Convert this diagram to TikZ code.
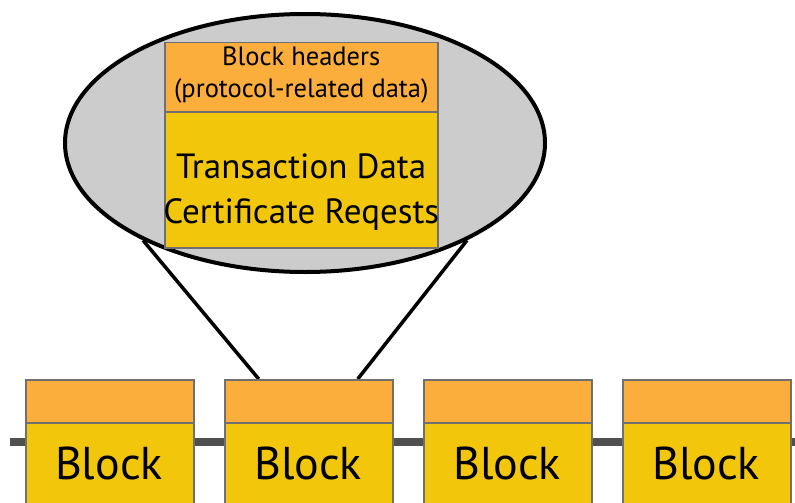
\documentclass[tikz,border=0pt]{standalone}
\usepackage{fontspec}
\setmainfont{PT Sans}
\usetikzlibrary{shapes.geometric,backgrounds}
\definecolor{hdrorange}{HTML}{FBAE3C}
\definecolor{bodyyellow}{HTML}{F2C70B}
\definecolor{lensgray}{HTML}{CCCCCC}
\definecolor{chaingray}{HTML}{505050}
\definecolor{edgegray}{HTML}{707070}
\tikzset{
  hdr/.style={draw=edgegray, line width=1.5pt, fill=hdrorange, rectangle,
    inner sep=0pt, anchor=north west, minimum width=168pt, minimum height=43pt},
  blockbody/.style={draw=edgegray, line width=1.5pt, fill=bodyyellow, rectangle,
    inner sep=0pt, anchor=north west, minimum width=168pt, minimum height=130pt},
  blocklabel/.style={font=\fontsize{46}{50}\selectfont},
  lens/.style={ellipse, draw=black, line width=4pt, fill=lensgray,
    minimum width=480pt, minimum height=258pt, inner sep=0pt},
  zoomline/.style={draw=black, line width=3.5pt},
  chain/.style={draw=chaingray, line width=8pt}
}
\begin{document}
\begin{tikzpicture}[x=1pt,y=-1pt]
\useasboundingbox (0,0) rectangle (795,503);
\clip (0,0) rectangle (795,503);

% chain of blocks
\foreach \i/\x in {1/25,2/224,3/423,4/622}{
  \node[hdr] (h\i) at (\x,379) {};
  \node[blockbody] (b\i) at (\x,422) {};
  \node[blocklabel] (t\i) at (\x+84,463) {Block};
}

% enlarged view of one block
\node[lens] (lens) at (305,143) {};
\node[hdr, minimum width=273pt, minimum height=69pt] (dh) at (164,42) {};
\node[blockbody, minimum width=273pt, minimum height=136pt] (db) at (164,111) {};
\node[align=center, font=\fontsize{26.5}{32}\selectfont, inner sep=0pt]
  (dht) at ([yshift=2pt]dh.center) {Block headers\\(protocol-related data)};
\node[align=center, font=\fontsize{35}{45}\selectfont, inner sep=0pt]
  (dbt) at ([yshift=-12pt]db.center) {Transaction Data\\Certificate Reqests};

\begin{scope}[on background layer]
  \coordinate (cl) at (10,442);
  \coordinate (cr) at (800,442);
  \draw[chain] (cl) -- (cr);
  \draw[zoomline] ([xshift=-50pt]h2.north) -- (lens.211.5);
  \draw[zoomline] ([xshift=49pt]h2.north) -- (lens.329.6);
\end{scope}
\end{tikzpicture}
\end{document}
